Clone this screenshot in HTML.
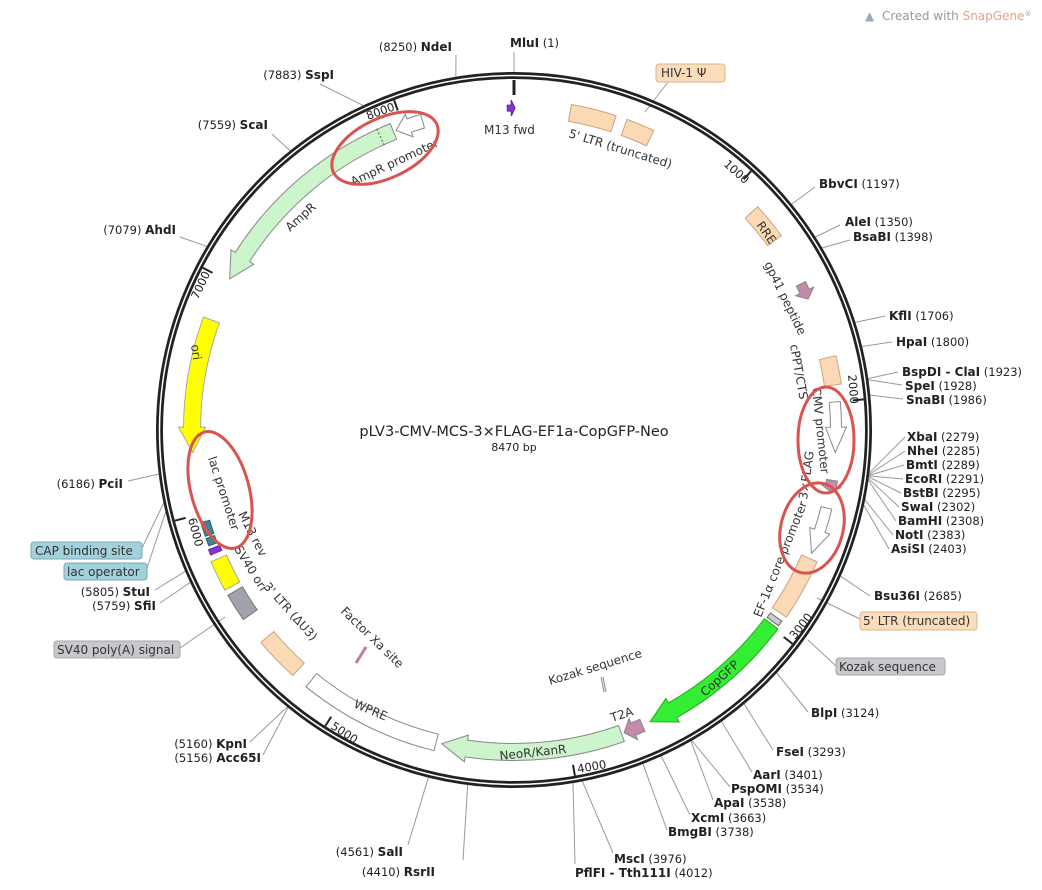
<!DOCTYPE html>
<html><head><meta charset="utf-8"><style>
html,body{margin:0;padding:0;background:#fff;width:1042px;height:890px;overflow:hidden}
svg text{font-family:"DejaVu Sans","Liberation Sans",sans-serif;font-size:11.5px;fill:#222}
.b{font-weight:bold;font-size:12px}
.f{font-size:12px;fill:#333}
</style></head><body>
<svg id="s" width="1042" height="890" xmlns="http://www.w3.org/2000/svg">
<g id="lines" stroke="#999" stroke-width="1" fill="none"></g>
<circle cx="514" cy="430" r="354.5" fill="none" stroke="#222" stroke-width="7"/>
<circle cx="514" cy="430" r="354.5" fill="none" stroke="#fff" stroke-width="1.5"/>
<g id="feat"></g>
<g id="ticks" stroke="#222" stroke-width="2"></g>

<text x="865" y="20" style="font-size:12px;fill:#9ab">&#9650;</text>
<text x="882" y="20" style="font-size:12px;fill:#999">Created with <tspan style="fill:#e8a08a">SnapGene</tspan><tspan style="font-size:7px" dy="-4">®</tspan></text>

<text x="514" y="436" text-anchor="middle" style="font-size:14.5px">pLV3-CMV-MCS-3×FLAG-EF1a-CopGFP-Neo</text>
<text x="514" y="451" text-anchor="middle" style="font-size:11px">8470 bp</text>

<g xml:space="preserve">
<text x="452" y="51" text-anchor="end">(8250)  <tspan class="b">NdeI</tspan></text>
<text x="510" y="47">  <tspan class="b">MluI</tspan>  (1)</text>
<text x="334" y="79" text-anchor="end">(7883)  <tspan class="b">SspI</tspan></text>
<text x="268" y="129" text-anchor="end">(7559)  <tspan class="b">ScaI</tspan></text>
<text x="176" y="234" text-anchor="end">(7079)  <tspan class="b">AhdI</tspan></text>
<text x="123" y="488" text-anchor="end">(6186)  <tspan class="b">PciI</tspan></text>
<text x="150" y="596" text-anchor="end">(5805)  <tspan class="b">StuI</tspan></text>
<text x="156" y="610" text-anchor="end">(5759)  <tspan class="b">SfiI</tspan></text>
<text x="247" y="748" text-anchor="end">(5160)  <tspan class="b">KpnI</tspan></text>
<text x="261" y="762" text-anchor="end">(5156)  <tspan class="b">Acc65I</tspan></text>
<text x="403" y="856" text-anchor="end">(4561)  <tspan class="b">SalI</tspan></text>
<text x="435" y="876" text-anchor="end">(4410)  <tspan class="b">RsrII</tspan></text>
<text x="819" y="188"><tspan class="b">BbvCI</tspan>  (1197)</text>
<text x="845" y="226"><tspan class="b">AleI</tspan>  (1350)</text>
<text x="853" y="241"><tspan class="b">BsaBI</tspan>  (1398)</text>
<text x="889" y="320"><tspan class="b">KflI</tspan>  (1706)</text>
<text x="896" y="346"><tspan class="b">HpaI</tspan>  (1800)</text>
<text x="902" y="376"><tspan class="b">BspDI - ClaI</tspan>  (1923)</text>
<text x="905" y="390"><tspan class="b">SpeI</tspan>  (1928)</text>
<text x="906" y="404"><tspan class="b">SnaBI</tspan>  (1986)</text>
<text x="907" y="441"><tspan class="b">XbaI</tspan>  (2279)</text>
<text x="907" y="455"><tspan class="b">NheI</tspan>  (2285)</text>
<text x="906" y="469"><tspan class="b">BmtI</tspan>  (2289)</text>
<text x="905" y="483"><tspan class="b">EcoRI</tspan>  (2291)</text>
<text x="903" y="497"><tspan class="b">BstBI</tspan>  (2295)</text>
<text x="901" y="511"><tspan class="b">SwaI</tspan>  (2302)</text>
<text x="898" y="525"><tspan class="b">BamHI</tspan>  (2308)</text>
<text x="895" y="539"><tspan class="b">NotI</tspan>  (2383)</text>
<text x="891" y="553"><tspan class="b">AsiSI</tspan>  (2403)</text>
<text x="874" y="600"><tspan class="b">Bsu36I</tspan>  (2685)</text>
<text x="811" y="717"><tspan class="b">BlpI</tspan>  (3124)</text>
<text x="776" y="756"><tspan class="b">FseI</tspan>  (3293)</text>
<text x="753" y="779"><tspan class="b">AarI</tspan>  (3401)</text>
<text x="731" y="793"><tspan class="b">PspOMI</tspan>  (3534)</text>
<text x="714" y="807"><tspan class="b">ApaI</tspan>  (3538)</text>
<text x="691" y="822"><tspan class="b">XcmI</tspan>  (3663)</text>
<text x="668" y="836"><tspan class="b">BmgBI</tspan>  (3738)</text>
<text x="614" y="863"><tspan class="b">MscI</tspan>  (3976)</text>
<text x="575" y="877"><tspan class="b">PflFI - Tth111I</tspan>  (4012)</text>
</g>

<rect x="656" y="64" width="69" height="18" rx="3" fill="#fbdcbb" stroke="#d9b48e"/>
<text x="661" y="77" class="f">HIV-1 Ψ</text>
<rect x="31" y="542" width="111" height="17" rx="3" fill="#a3d1db" stroke="#78aab5"/>
<text x="35" y="555" class="f">CAP binding site</text>
<rect x="64" y="563" width="83" height="17" rx="3" fill="#a3d1db" stroke="#78aab5"/>
<text x="67" y="576" class="f">lac operator</text>
<rect x="54" y="641" width="126" height="17" rx="3" fill="#c6c8cc" stroke="#a5a7ab"/>
<text x="57" y="654" class="f">SV40 poly(A) signal</text>
<rect x="860" y="612" width="117" height="18" rx="3" fill="#fbdcbb" stroke="#d9b48e"/>
<text x="863" y="625" class="f">5' LTR (truncated)</text>
<rect x="836" y="658" width="109" height="17" rx="3" fill="#c6c8cc" stroke="#a5a7ab"/>
<text x="839" y="671" class="f">Kozak sequence</text>

<text transform="translate(368,120) rotate(-20)">8000</text>
<text transform="translate(723,165) rotate(42)">1000</text>
<text transform="translate(848,375) rotate(85)">2000</text>
<text transform="translate(795,640) rotate(-52)">3000</text>
<text transform="translate(578,773) rotate(-10)">4000</text>
<text transform="translate(330,728) rotate(33)">5000</text>
<text transform="translate(188,519) rotate(75)">6000</text>
<text transform="translate(198,300) rotate(-65)">7000</text>

<text class="f" transform="translate(353,186) rotate(-25)">AmpR promoter</text>
<text class="f" transform="translate(290,232) rotate(-42)">AmpR</text>
<text class="f" transform="translate(191,345) rotate(82)">ori</text>
<text class="f" transform="translate(208,458) rotate(72)">lac promoter</text>
<text class="f" transform="translate(238,514) rotate(63)">M13 rev</text>
<text class="f" transform="translate(234,549) rotate(58)">SV40 ori</text>
<text class="f" transform="translate(263,587) rotate(48)">3' LTR (ΔU3)</text>
<text class="f" transform="translate(353,707) rotate(23)">WPRE</text>
<text class="f" transform="translate(500,760) rotate(-6)">NeoR/KanR</text>
<text class="f" transform="translate(705,697) rotate(-42)">CopGFP</text>
<text class="f" transform="translate(612,722) rotate(-18)">T2A</text>
<text class="f" transform="translate(761,618) rotate(-68)">EF-1α core promoter</text>
<text class="f" transform="translate(812,388) rotate(84)">CMV promoter</text>
<text class="f" transform="translate(790,345) rotate(80)">cPPT/CTS</text>
<text class="f" transform="translate(807,500) rotate(-82)">3×FLAG</text>
<text class="f" transform="translate(764,264) rotate(64)">gp41 peptide</text>
<text class="f" transform="translate(756,225) rotate(55)">RRE</text>
<text class="f" transform="translate(568,137) rotate(17)">5' LTR (truncated)</text>
<text class="f" x="484" y="134">M13 fwd</text>
<text class="f" transform="translate(340,612) rotate(44)">Factor Xa site</text>
<text class="f" transform="translate(550,685) rotate(-17)">Kozak sequence</text>

<g fill="none" stroke="#d9534f" stroke-width="3">
<ellipse cx="385" cy="148" rx="57" ry="30" transform="rotate(-25 385 148)"/>
<ellipse cx="220" cy="490" rx="29" ry="60" transform="rotate(-15 220 490)"/>
<ellipse cx="826" cy="440" rx="28" ry="53"/>
<ellipse cx="812" cy="528" rx="31" ry="46" transform="rotate(15 812 528)"/>
</g>
</svg>
<script>
var NS="http://www.w3.org/2000/svg";
function pt(a,r){var t=a*Math.PI/180;return (514+r*Math.sin(t)).toFixed(1)+","+(430-r*Math.cos(t)).toFixed(1);}
function el(g,tag,at){var e=document.createElementNS(NS,tag);for(var k in at)e.setAttribute(k,at[k]);document.getElementById(g).appendChild(e);return e;}
function band(a1,a2,r,w,fill,dir,stroke){
 var ro=r+w/2,ri=r-w/2,h=dir?Math.min(4.5,(a2-a1)*0.5):0,b1=a1,b2=a2;
 if(dir==1)b2=a2-h; if(dir==-1)b1=a1+h;
 var d="M"+pt(b1,ro)+" A"+ro+" "+ro+" 0 0 1 "+pt(b2,ro);
 if(dir==1)d+=" L"+pt(b2,ro+5)+" L"+pt(a2,r)+" L"+pt(b2,ri-5)+" L"+pt(b2,ri); else d+=" L"+pt(b2,ri);
 d+=" A"+ri+" "+ri+" 0 0 0 "+pt(b1,ri);
 if(dir==-1)d+=" L"+pt(b1,ri-5)+" L"+pt(a1,r)+" L"+pt(b1,ro+5)+" L"+pt(b1,ro);
 d+="Z"; el("feat","path",{d:d,fill:fill,stroke:stroke||"#888","stroke-width":1});
}
var pe="#fbd9b5",pu="#c48aab";
band(298,338,322,17,"#ccf5cc",-1);
band(338.5,343.5,322,14,"#fff",-1);
band(266,290,322,17,"#ffff00",-1,"#aa9");
band(251,253.5,322,9,"#3e8595",0,"#2a6070");
band(249.2,250.6,322,9,"#3e8595",0,"#2a6070");
band(247.6,248.6,322,12,"#8833cc",0,"#6622aa");
band(241,246.5,322,17,"#ffff00",0,"#aa9");
band(235,240,322,17,"#a0a3aa",0,"#777");
band(222,230,322,17,pe,0,"#c9a584");
band(194,219,322,17,"#fff",0);
band(160.5,193,322,17,"#ccf5cc",1);
band(156.5,160,322,13,pu,1);
band(127,155,322,17,"#33ee33",1,"#22aa22");
band(125.5,126.5,322,14,"#ccc",0,"#666");
band(113.5,124.5,322,17,pe,0,"#c9a584");
band(104,112.5,322,11,"#fff",1);
band(99,101,322,11,pu,1);
band(85,94,322,11,"#fff",1);
band(77,82,322,17,pe,0,"#c9a584");
band(63,66,322,10,pu,1);
band(47.5,54,322,17,pe,0,"#c9a584");
band(10,18,322,17,pe,0,"#c9a584");
band(20,25,322,17,pe,0,"#c9a584");
band(-1.2,0.2,322,6,"#8833cc",1,"#6622aa");
var q1=pt(335.5,313).split(","),q2=pt(335.5,331).split(",");
el("feat","line",{x1:q1[0],y1:q1[1],x2:q2[0],y2:q2[1],stroke:"#555","stroke-dasharray":"2,2"});
el("feat","line",{x1:356,y1:663,x2:366,y2:647,stroke:"#c47a9a","stroke-width":3});
el("feat","line",{x1:602,y1:677,x2:605,y2:692,stroke:"#888","stroke-width":3});
el("feat","line",{x1:602,y1:677,x2:605,y2:692,stroke:"#eee","stroke-width":1});
for(var i=1;i<=8;i++){var a=i*1000/8470*360;var p1=pt(a,351).split(","),p2=pt(a,340).split(",");el("ticks","line",{x1:p1[0],y1:p1[1],x2:p2[0],y2:p2[1]});}
el("ticks","line",{x1:514,y1:80,x2:514,y2:95,"stroke-width":3});
function ln(bp,x,y,r){var a=bp/8470*360;var p=pt(a,r||358).split(",");el("lines","line",{x1:p[0],y1:p[1],x2:x,y2:y});}
ln(0,514,52);ln(8250,456,55);ln(7883,320,84);ln(7559,272,134);ln(7079,180,237);ln(6186,128,481);
ln(5805,155,590);ln(5759,160,603);ln(6075,142,548);ln(6040,147,568);
ln(5160,250,742);ln(5156,263,755);ln(4561,408,845);ln(4410,463,860);
ln(1197,815,187);ln(1350,840,225);ln(1398,850,240);ln(1706,885,316);ln(1800,892,342);
ln(1923,898,372);ln(1928,902,385);ln(1986,903,399);
[[2279,905,437],[2285,905,451],[2289,904,465],[2291,903,479],[2295,901,493],[2302,899,507],[2308,896,521],[2383,893,535],[2403,889,549]].forEach(function(f){ln(f[0],f[1],f[2]);});
ln(2685,870,596);ln(3124,808,712);ln(3293,773,750);ln(3401,752,772);ln(3534,730,787);ln(3538,713,800);
ln(3663,690,815);ln(3738,667,830);ln(3976,613,853);ln(4012,575,864);
el("lines","line",{x1:645,y1:112,x2:668,y2:82});
el("lines","line",{x1:225,y1:617,x2:180,y2:648});
el("lines","line",{x1:817,y1:598,x2:862,y2:620});
el("lines","line",{x1:808,y1:640,x2:836,y2:666});
</script>
</body></html>
